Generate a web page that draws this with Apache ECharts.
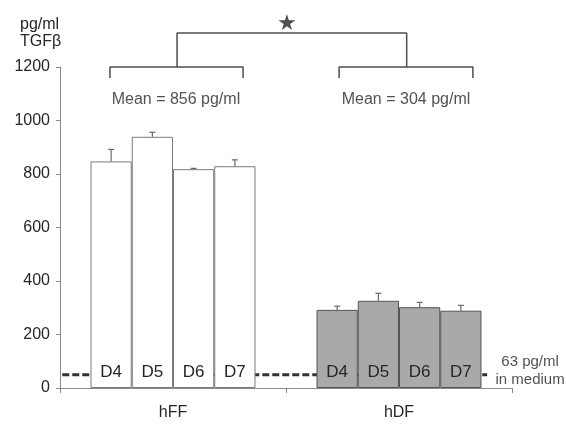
<!DOCTYPE html>
<html>
<head>
<meta charset="utf-8">
<script src="https://cdn.jsdelivr.net/npm/echarts@6/dist/echarts.min.js"></script>
<style>html,body{margin:0;padding:0;background:#fff}#c{width:566px;height:427px}</style>
</head>
<body>
<div id="c"></div>
<script>
const categories = ['hFF', 'hDF'];
const days = ['D4', 'D5', 'D6', 'D7'];
const hFFValues = [847, 939, 818, 829];
const hFFErrTop = [892, 956, 821, 853];
const hDFValues = [292, 326, 302, 289];
const hDFErrTop = [306, 354, 320, 309];
const yTicks = [0, 200, 400, 600, 800, 1000, 1200];
const meanLabels = ['Mean = 856 pg/ml', 'Mean = 304 pg/ml'];
const mediumLevel = 50;
const mediumLabel = '63 pg/ml\nin medium';
// annotation positions in category units (0..2) and pg/ml
const bracketLeft = [[0.221, 1159], [0.221, 1200], [0.81, 1200], [0.81, 1159]];
const bracketRight = [[1.235, 1159], [1.235, 1200], [1.827, 1200], [1.827, 1159]];
const bracketTop = [[0.518, 1200], [0.518, 1327], [1.534, 1327], [1.534, 1200]];
const starPoint = [1.004, 1368];
const meanPoints = [[0.513, 1077], [1.531, 1077]];
const mediumLine = [[0.01, mediumLevel], [1.89, mediumLevel]];
const mediumLabelPoint = [2.08, mediumLevel];

const FONT = 'Liberation Sans, Arial, sans-serif';
const TXT = '#262626';
const barWidthFrac = 0.73;

const chart = echarts.init(document.getElementById('c'));

const barSeries = days.map((d, i) => ({
  name: d,
  type: 'bar',
  xAxisIndex: 0,
  yAxisIndex: 0,
  barGap: 0,
  barCategoryGap: '27%',
  z: 2,
  data: [
    { value: hFFValues[i], itemStyle: { color: '#ffffff', borderColor: '#7a7a7a', borderWidth: 1 } },
    { value: hDFValues[i], itemStyle: { color: '#a9a9a9', borderColor: '#555555', borderWidth: 1 } }
  ],
  label: {
    show: true,
    position: 'insideBottom',
    distance: 7,
    formatter: d,
    fontFamily: FONT,
    fontSize: 17,
    color: TXT
  },
  silent: true
}));

const errData = [];
days.forEach((d, i) => {
  errData.push([0, hFFValues[i], hFFErrTop[i], i]);
  errData.push([1, hDFValues[i], hDFErrTop[i], i]);
});

const errorSeries = {
  type: 'custom',
  xAxisIndex: 0,
  yAxisIndex: 0,
  z: 3,
  data: errData,
  renderItem: function (params, api) {
    const cat = api.value(0);
    const base = api.coord([cat, api.value(1)]);
    const top = api.coord([cat, api.value(2)]);
    const band = api.size([1, 0])[0];
    const bw = band * barWidthFrac / 4;
    const x = base[0] + (api.value(3) - 1.5) * bw;
    const style = { stroke: '#6a6a6a', lineWidth: 1.2 };
    return {
      type: 'group',
      children: [
        { type: 'line', shape: { x1: x, y1: base[1], x2: x, y2: top[1] }, style: style },
        { type: 'line', shape: { x1: x - 3, y1: top[1], x2: x + 3, y2: top[1] }, style: style }
      ]
    };
  }
};

function bracket(data) {
  return {
    type: 'line',
    xAxisIndex: 1,
    yAxisIndex: 0,
    data: data,
    symbol: 'none',
    clip: false,
    silent: true,
    z: 4,
    lineStyle: { color: '#4d4d4d', width: 1.5 }
  };
}

chart.setOption({
  animation: false,
  title: {
    text: 'pg/ml\nTGFβ',
    left: 15,
    top: 11,
    textStyle: { fontFamily: FONT, fontSize: 16, fontWeight: 'normal', color: TXT, lineHeight: 17 }
  },
  grid: { left: 60, right: 54, top: 67, bottom: 39, containLabel: false },
  xAxis: [
    {
      type: 'category',
      data: categories,
      axisLine: { lineStyle: { color: '#8a8a8a', width: 1 } },
      axisTick: { show: true, length: 5, lineStyle: { color: '#8a8a8a' } },
      axisLabel: { margin: 17, fontFamily: FONT, fontSize: 16, color: TXT }
    },
    { type: 'value', min: 0, max: 2, show: false }
  ],
  yAxis: {
    type: 'value',
    min: yTicks[0],
    max: yTicks[yTicks.length - 1],
    interval: 200,
    axisLine: { show: true, lineStyle: { color: '#8a8a8a', width: 1 } },
    axisTick: { show: true, length: 4, lineStyle: { color: '#8a8a8a' } },
    splitLine: { show: false },
    axisLabel: { margin: 10, fontFamily: FONT, fontSize: 16, color: TXT, formatter: v => String(v) }
  },
  series: [
    {
      type: 'line',
      xAxisIndex: 1,
      yAxisIndex: 0,
      data: mediumLine,
      symbol: 'none',
      z: 1,
      silent: true,
      lineStyle: { color: '#333333', width: 3, type: [7, 3] }
    },
    ...barSeries,
    errorSeries,
    bracket(bracketLeft),
    bracket(bracketRight),
    bracket(bracketTop),
    {
      type: 'scatter',
      xAxisIndex: 1,
      yAxisIndex: 0,
      clip: false,
      silent: true,
      z: 5,
      data: [starPoint],
      symbol: 'path://M50,0 L61,35 L98,35 L68,57 L79,91 L50,70 L21,91 L32,57 L2,35 L39,35 Z',
      symbolSize: [17, 16],
      itemStyle: { color: '#222222' }
    },
    {
      type: 'scatter',
      xAxisIndex: 1,
      yAxisIndex: 0,
      clip: false,
      silent: true,
      z: 5,
      symbolSize: 0,
      data: meanPoints.map((p, i) => ({ value: p, label: { formatter: meanLabels[i] } })),
      label: { show: true, position: 'inside', fontFamily: FONT, fontSize: 16, color: TXT }
    },
    {
      type: 'scatter',
      xAxisIndex: 1,
      yAxisIndex: 0,
      clip: false,
      silent: true,
      z: 5,
      symbolSize: 0,
      data: [mediumLabelPoint],
      label: {
        show: true, position: 'inside', offset: [0, -4], formatter: mediumLabel,
        fontFamily: FONT, fontSize: 15, lineHeight: 18, color: TXT, align: 'center'
      }
    }
  ]
});
</script>
</body>
</html>
